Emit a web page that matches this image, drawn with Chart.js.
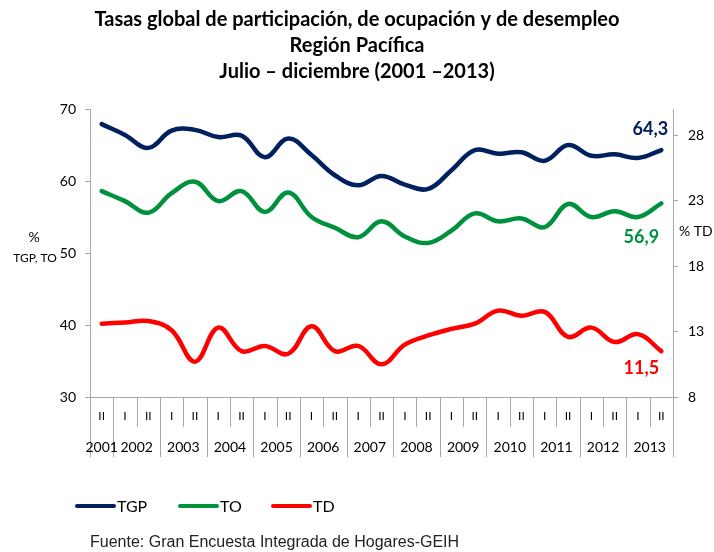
<!DOCTYPE html>
<html>
<head>
<meta charset="utf-8">
<script src="https://cdn.jsdelivr.net/npm/chart.js@4.4.0/dist/chart.umd.min.js"></script>
<style>
  html, body { margin: 0; padding: 0; background: #fff; }
</style>
</head>
<body>
<canvas id="grafica" width="714" height="552"></canvas>
<script>
// Semestres (2001-II a 2013-II)
const semestres = ['II', 'I', 'II', 'I', 'II', 'I', 'II', 'I', 'II', 'I', 'II', 'I', 'II',
                   'I', 'II', 'I', 'II', 'I', 'II', 'I', 'II', 'I', 'II', 'I', 'II'];
const anios = ['2001', '2002', '2003', '2004', '2005', '2006', '2007',
               '2008', '2009', '2010', '2011', '2012', '2013'];

// Tasas (%)
const tgp = [67.9, 66.4, 64.6, 67.0, 67.1, 66.1, 66.3, 63.3, 65.9, 63.6, 60.8, 59.4, 60.7,
             59.5, 58.9, 61.5, 64.3, 63.8, 64.0, 62.8, 65.0, 63.5, 63.7, 63.2, 64.3];
const to = [58.6, 57.2, 55.6, 58.3, 59.9, 57.2, 58.6, 55.7, 58.4, 55.0, 53.5, 52.2, 54.4,
            52.3, 51.4, 53.1, 55.5, 54.4, 54.8, 53.6, 56.8, 55.0, 55.8, 55.0, 56.9];
const td = [13.6, 13.7, 13.8, 13.1, 10.7, 13.3, 11.5, 11.9, 11.3, 13.4, 11.5, 11.9, 10.5,
            12.0, 12.7, 13.2, 13.6, 14.6, 14.2, 14.5, 12.6, 13.3, 12.2, 12.8, 11.5];

const ticksIzq = [30, 40, 50, 60, 70];
const ticksDer = [8, 13, 18, 23, 28];

const colores = { tgp: '#002060', to: '#00913f', td: '#ff0000' };
const gris = '#a6a6a6';

// etiqueta de cada punto: año + semestre
const etiquetas = semestres.map(function (s, i) {
    const a = i === 0 ? anios[0] : anios[1 + Math.floor((i - 1) / 2)];
    return a + ' ' + s;
});

const dibujos = {
    id: 'dibujos',
    afterDraw: function (chart) {
        const ctx = chart.ctx;
        const x = chart.scales.x;
        const area = chart.chartArea;
        ctx.save();

        // Título
        ctx.fillStyle = '#000';
        ctx.textAlign = 'center';
        ctx.textBaseline = 'middle';
        ctx.font = 'bold 20px Lato';
        ctx.fillText('Tasas global de participación, de ocupación y de desempleo', 357, 20);
        ctx.fillText('Región Pacífica', 357, 46);
        ctx.fillText('Julio – diciembre (2001 –2013)', 357, 72);

        // Títulos de ejes
        ctx.font = '14px Lato';
        ctx.fillText('%', 34, 237);
        ctx.font = '12px Lato';
        ctx.fillText('TGP, TO', 35, 258);
        ctx.font = '14px Lato';
        ctx.textAlign = 'left';
        ctx.fillText('% TD', 679, 231);

        // Separadores y etiquetas del eje x
        const paso = x.getPixelForValue(1) - x.getPixelForValue(0);
        ctx.strokeStyle = gris;
        ctx.lineWidth = 1;
        for (let k = -1; k < semestres.length; k++) {
            const bx = Math.round(x.getPixelForValue(k) + paso / 2) + 0.5;
            const largo = (k === -1 || k === semestres.length - 1 || k % 2 === 0);
            ctx.beginPath();
            ctx.moveTo(bx, area.bottom);
            ctx.lineTo(bx, largo ? 457 : 427);
            ctx.stroke();
        }
        ctx.fillStyle = '#000';
        ctx.textAlign = 'center';
        ctx.font = '12px Lato';
        semestres.forEach(function (s, i) {
            ctx.fillText(s, x.getPixelForValue(i), 416);
        });
        ctx.font = '14px Lato';
        anios.forEach(function (a, j) {
            const cx = j === 0 ? x.getPixelForValue(0)
                : (x.getPixelForValue(2 * j - 1) + x.getPixelForValue(2 * j)) / 2;
            ctx.fillText(a, cx, 447);
        });

        // Valores finales
        const n = semestres.length - 1;
        ctx.font = 'bold 18px Lato';
        const yl = chart.scales.y, yr = chart.scales.y1;
        ctx.fillStyle = colores.tgp;
        ctx.fillText(String(tgp[n]).replace('.', ','), x.getPixelForValue(n) - 11, yl.getPixelForValue(tgp[n]) - 21);
        ctx.fillStyle = colores.to;
        ctx.fillText(String(to[n]).replace('.', ','), x.getPixelForValue(n) - 20, yl.getPixelForValue(to[n]) + 34);
        ctx.fillStyle = colores.td;
        ctx.fillText(String(td[n]).replace('.', ','), x.getPixelForValue(n) - 20, yr.getPixelForValue(td[n]) + 17);

        // Leyenda
        const items = [['TGP', colores.tgp, 77], ['TO', colores.to, 180], ['TD', colores.td, 273]];
        ctx.lineWidth = 4;
        ctx.lineCap = 'round';
        ctx.font = '16px Lato';
        ctx.textAlign = 'left';
        items.forEach(function (it) {
            ctx.strokeStyle = it[1];
            ctx.beginPath();
            ctx.moveTo(it[2], 506);
            ctx.lineTo(it[2] + 37, 506);
            ctx.stroke();
            ctx.fillStyle = '#000';
            ctx.fillText(it[0], it[2] + 40, 507);
        });

        // Fuente
        ctx.font = '16px "Liberation Sans"';
        ctx.fillStyle = '#222';
        ctx.fillText('Fuente: Gran Encuesta Integrada de Hogares-GEIH', 90, 543);
        ctx.restore();
    }
};

new Chart(document.getElementById('grafica').getContext('2d'), {
    type: 'line',
    data: {
        labels: etiquetas,
        datasets: [
            { label: 'TGP', data: tgp, yAxisID: 'y', borderColor: colores.tgp },
            { label: 'TO', data: to, yAxisID: 'y', borderColor: colores.to },
            { label: 'TD', data: td, yAxisID: 'y1', borderColor: colores.td }
        ]
    },
    options: {
        responsive: false,
        animation: false,
        devicePixelRatio: 1,
        layout: { padding: { top: 109, left: 0, right: 0, bottom: 0 } },
        elements: {
            line: { borderWidth: 4.5, tension: 0.4, borderCapStyle: 'round', fill: false },
            point: { radius: 0 }
        },
        plugins: { legend: { display: false }, tooltip: { enabled: false } },
        scales: {
            x: {
                offset: true,
                grid: { display: false },
                border: { color: gris },
                ticks: { display: false },
                afterFit: function (s) { s.height = 155; }
            },
            y: {
                position: 'left',
                min: 30, max: 70,
                afterBuildTicks: function (s) { s.ticks = ticksIzq.map(function (v) { return { value: v }; }); },
                ticks: { padding: 9, color: '#000', font: { family: 'Lato', size: 14 } },
                grid: { drawOnChartArea: false, tickLength: 5, color: gris },
                border: { color: gris },
                afterFit: function (s) { s.width = 90; }
            },
            y1: {
                position: 'right',
                min: 8, max: 30,
                afterBuildTicks: function (s) { s.ticks = ticksDer.map(function (v) { return { value: v }; }); },
                ticks: { padding: 10, color: '#000', font: { family: 'Lato', size: 14 } },
                grid: { drawOnChartArea: false, tickLength: 5, color: gris },
                border: { color: gris },
                afterFit: function (s) { s.width = 41; }
            }
        }
    },
    plugins: [dibujos]
});
</script>
</body>
</html>
